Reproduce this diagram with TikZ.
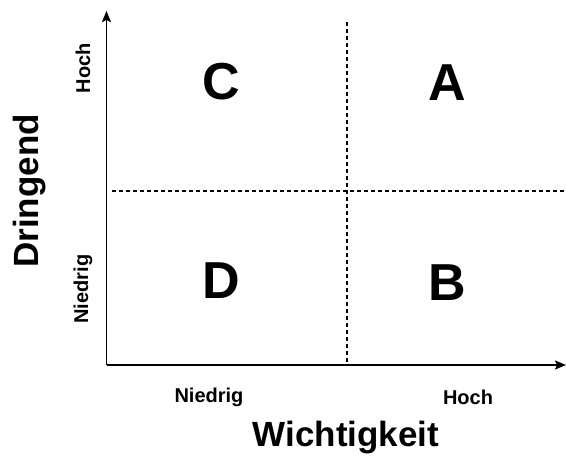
\documentclass[tikz,border=0pt]{standalone}
\usepackage{fontspec}
\setmainfont{Liberation Sans}
\usetikzlibrary{arrows.meta}
\tikzset{
  axis/.style={line width=1.8pt, -{Stealth[length=11pt,width=9pt,inset=2pt]}},
  divider/.style={line width=1.2pt, dash pattern=on 4pt off 3pt},
  quad/.style={font=\fontsize{52}{62}\selectfont\bfseries, inner sep=0pt},
  tick/.style={font=\fontsize{20}{24}\selectfont\bfseries, inner sep=0pt},
  axlabel/.style={font=\fontsize{35}{42}\selectfont\bfseries, inner sep=0pt}
}
\begin{document}
\begin{tikzpicture}[x=1pt,y=-1pt]
\useasboundingbox (0,0) rectangle (566,458);
\coordinate (o) at (106.5,365);
\coordinate (ytop) at (106.5,11);
\coordinate (xend) at (566,365);
\coordinate (vt) at (347,22);
\coordinate (vb) at (347,362);
\coordinate (hl) at (112,191);
\coordinate (hr) at (566,191);
\draw[axis] (o) -- (ytop);
\draw[axis] (o) -- (xend);
\draw[divider] (vt) -- (vb);
\draw[divider] (hl) -- (hr);
\node[quad] (C) at (221,82) {C};
\node[quad] (A) at (447,83) {A};
\node[quad] (D) at (221,281) {D};
\node[quad] (B) at (447,283) {B};
\node[tick, rotate=90] (yhi) at (83,68) {Hoch};
\node[tick, rotate=90] (ylo) at (83,289) {Niedrig};
\node[tick] (xlo) at (209,397) {Niedrig};
\node[tick] (xhi) at (468,397) {Hoch};
\node[axlabel] (xl) at (346,438) {Wichtigkeit};
\node[axlabel, rotate=90] (yl) at (30,191) {Dringend};
\end{tikzpicture}
\end{document}
